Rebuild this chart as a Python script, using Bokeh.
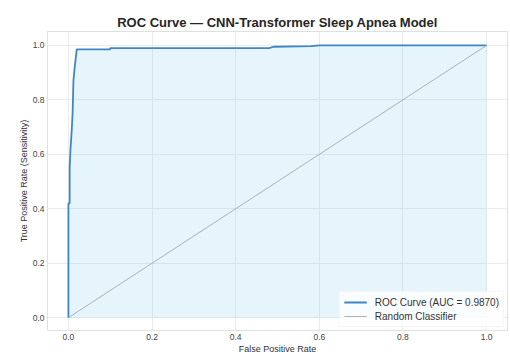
from bokeh.plotting import figure
from bokeh.models import Range1d, FixedTicker, PrintfTickFormatter
from bokeh.embed import file_html
from bokeh.resources import INLINE

# ROC curve points
fpr = [0.0, 0.0, 0.003, 0.003, 0.005, 0.008, 0.010, 0.012, 0.015, 0.017, 0.020,
       0.10, 0.10, 0.48, 0.49, 0.58, 0.60, 1.0]
tpr = [0.0, 0.42, 0.42, 0.55, 0.62, 0.69, 0.75, 0.87, 0.92, 0.945, 0.985,
       0.985, 0.99, 0.99, 0.995, 0.997, 1.0, 1.0]
diag_x = [0.0, 1.0]
diag_y = [0.0, 1.0]
auc = 0.9870
ticks = [0.0, 0.2, 0.4, 0.6, 0.8, 1.0]

title = "ROC Curve \u2014 CNN-Transformer Sleep Apnea Model"
font = "Liberation Sans"

p = figure(width=510, height=356, output_backend="svg", toolbar_location=None,
           x_range=Range1d(-0.05, 1.05), y_range=Range1d(-0.047, 1.051),
           min_border_left=47, min_border_right=3, min_border_top=31, min_border_bottom=23,
           title=title)

p.background_fill_color = "white"
p.border_fill_color = "white"
p.outline_line_color = "#e0e0e0"
p.outline_line_width = 1

p.title.text_font = font
p.title.text_font_size = "13px"
p.title.text_font_style = "bold"
p.title.text_color = "#262626"
p.title.align = "center"
p.title.standoff = 4

# fill under curve
p.patch(x=fpr + [1.0, 0.0], y=tpr + [0.0, 0.0], fill_color="#56B4E9", fill_alpha=0.15,
        line_color=None)

p.line(fpr, tpr, line_color="#3f86c4", line_width=1.8,
       legend_label=f"ROC Curve (AUC = {auc:.4f})")
p.line(diag_x, diag_y, line_color="#a8a8a8", line_width=1, line_alpha=0.9,
       legend_label="Random Classifier")

for ax in (p.xaxis, p.yaxis):
    ax.ticker = FixedTicker(ticks=ticks)
    ax.formatter = PrintfTickFormatter(format="%.1f")
    ax.major_tick_out = 0
    ax.major_tick_in = 0
    ax.minor_tick_out = 0
    ax.minor_tick_in = 0
    ax.axis_line_color = None
    ax.major_label_text_font = font
    ax.major_label_text_font_size = "8.5px"
    ax.major_label_text_color = "#444444"
    ax.axis_label_text_font = font
    ax.axis_label_text_font_size = "9px"
    ax.axis_label_text_font_style = "normal"
    ax.axis_label_text_color = "#333333"
    ax.major_label_standoff = 3
    ax.axis_label_standoff = 1

p.xaxis.axis_label = "False Positive Rate"
p.yaxis.axis_label = "True Positive Rate (Sensitivity)"

p.xgrid.ticker = FixedTicker(ticks=ticks)
p.ygrid.ticker = FixedTicker(ticks=ticks)
p.grid.grid_line_color = "#ebebeb"
p.grid.grid_line_width = 1

p.legend.location = "bottom_right"
p.legend.label_text_font = font
p.legend.label_text_font_size = "10px"
p.legend.label_text_color = "#333333"
p.legend.glyph_width = 23
p.legend.glyph_height = 12
p.legend.label_standoff = 8
p.legend.spacing = 2
p.legend.padding = 4
p.legend.margin = 3
p.legend.border_line_color = "#ececec"
p.legend.background_fill_color = "white"
p.legend.background_fill_alpha = 0.8

open("out.html", "w").write(file_html(p, INLINE))
